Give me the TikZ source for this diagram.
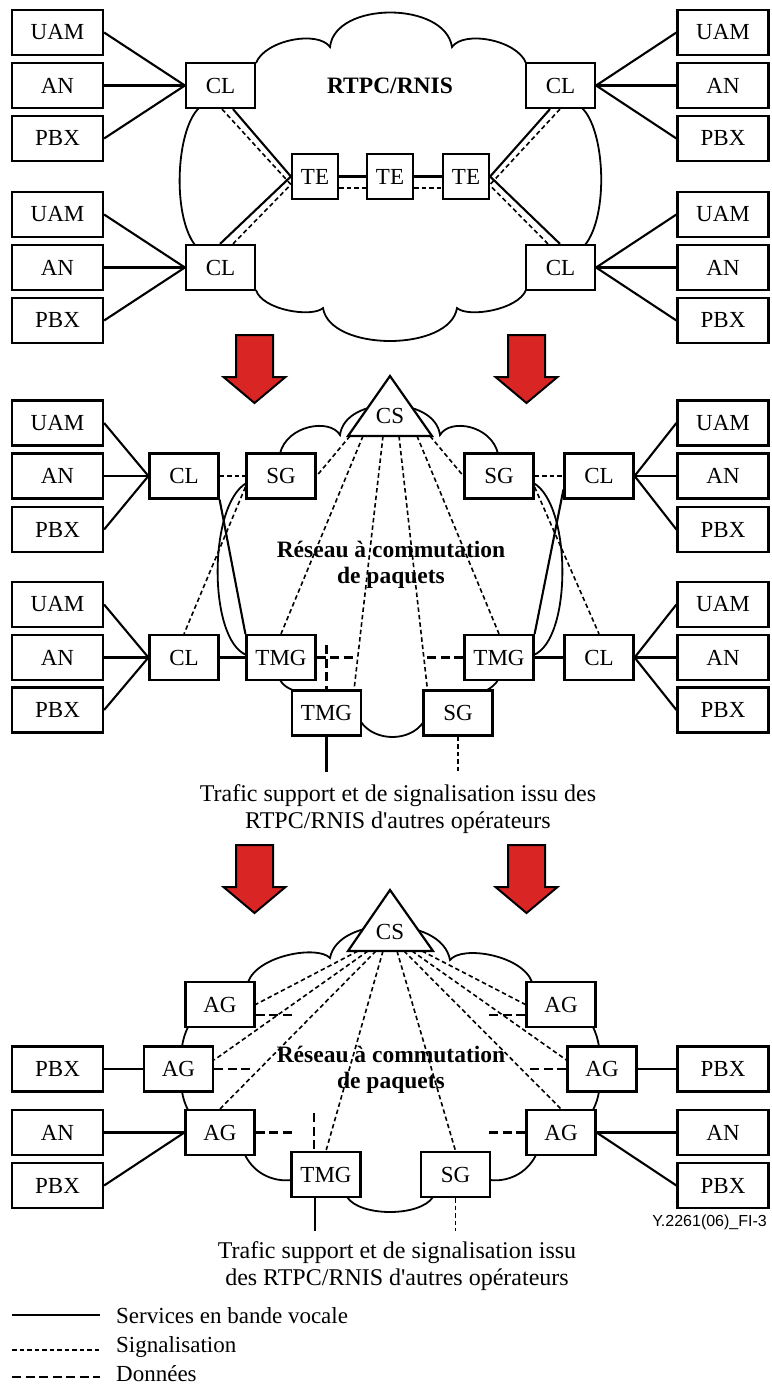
\documentclass[tikz,border=0pt]{standalone}
\usepackage{fontspec}
\setmainfont{Liberation Serif}
\setsansfont{Liberation Sans}
\usetikzlibrary{calc}
\definecolor{arrred}{RGB}{218,37,37}
\begin{document}
\begin{tikzpicture}[x=1pt,y=-1pt,
  box/.style={draw, line width=2.2pt, inner sep=0pt, minimum height=45pt, font=\fontsize{23}{26}\selectfont},
  sidebox/.style={box, minimum width=91pt},
  cbox/.style={box, minimum width=69pt},
  tebox/.style={box, minimum width=46pt},
  voice/.style={line width=2.1pt},
  thickvoice/.style={line width=3.8pt},
  sig/.style={line width=1.6pt, dash pattern=on 4.5pt off 3pt},
  data/.style={line width=2.2pt, dash pattern=on 9pt off 4.5pt},
  cloudline/.style={line width=1.8pt},
  bigarrow/.style={draw, line width=2pt, fill=arrred, line join=miter},
  title/.style={font=\bfseries\fontsize{23.5}{25.5}\selectfont, align=center, inner sep=0pt},
  note/.style={font=\fontsize{24}{27}\selectfont, align=center, inner sep=0pt},
  legtext/.style={font=\fontsize{23}{26}\selectfont, anchor=west, inner sep=0pt},
  cslabel/.style={font=\fontsize{23}{26}\selectfont, inner sep=0pt},
  downarrow/.pic={\draw[bigarrow] (-18.5,0) -- (18.5,0) -- (18.5,42) -- (31,42) -- (0,68) -- (-31,42) -- (-18.5,42) -- cycle;}]
\useasboundingbox (0,0) rectangle (771,1389);

%% ================= TOP SECTION =================
\draw[cloudline] (256,63) .. controls (265,40) and (318,30) .. (330,47)
  .. controls (335,1) and (445,1) .. (452,47)
  .. controls (464,30) and (517,40) .. (526,63);
\draw[cloudline] (582,108) .. controls (605,130) and (609,215) .. (585,245);
\draw[cloudline] (199,108) .. controls (176,130) and (172,215) .. (195,245);
\draw[cloudline] (256,290) .. controls (262,310) and (312,318) .. (323,308)
  .. controls (330,352) and (450,352) .. (457,308)
  .. controls (468,318) and (518,310) .. (526,290);

\node[sidebox] (uam1) at (57.5,32.5) {UAM};
\node[sidebox] (an1) at (57.5,85.5) {AN};
\node[sidebox] (pbx1) at (57.5,138.5) {PBX};
\node[sidebox] (uam2) at (57.5,214.5) {UAM};
\node[sidebox] (an2) at (57.5,267.5) {AN};
\node[sidebox] (pbx2) at (57.5,320.5) {PBX};
\node[sidebox] (uam3) at (723,32.5) {UAM};
\node[sidebox] (an3) at (723,85.5) {AN};
\node[sidebox] (pbx3) at (723,138.5) {PBX};
\node[sidebox] (uam4) at (723,214.5) {UAM};
\node[sidebox] (an4) at (723,267.5) {AN};
\node[sidebox] (pbx4) at (723,320.5) {PBX};
\node[cbox] (cl1) at (220.5,85.5) {CL};
\node[cbox] (cl2) at (220.5,267.5) {CL};
\node[cbox] (cl3) at (560.5,85.5) {CL};
\node[cbox] (cl4) at (560.5,267.5) {CL};
\node[tebox] (te1) at (315,176.5) {TE};
\node[tebox] (te2) at (390,176.5) {TE};
\node[tebox] (te3) at (466,176.5) {TE};
\node[title] (rtpc) at (390,86) {RTPC/RNIS};

\foreach \s/\c in {uam1/cl1,an1/cl1,pbx1/cl1,uam2/cl2,an2/cl2,pbx2/cl2}
  \draw[voice] (\s.east) -- (\c.west);
\foreach \s/\c in {uam3/cl3,an3/cl3,pbx3/cl3,uam4/cl4,an4/cl4,pbx4/cl4}
  \draw[voice] (\c.east) -- (\s.west);

\draw[voice] ([xshift=12.5pt]cl1.south) -- (te1.west);
\draw[sig] ([xshift=1.5pt]cl1.south) -- ([yshift=-8pt]te1.west);
\draw[voice] ([xshift=-0.5pt]cl2.north) -- (te1.west);
\draw[sig] ([xshift=12.5pt]cl2.north) -- ([yshift=-8pt]te1.west);
\draw[voice] ([xshift=-10.5pt]cl3.south) -- (te3.east);
\draw[sig] ([xshift=-0.5pt]cl3.south) -- ([yshift=-8pt]te3.east);
\draw[voice] ([xshift=-0.5pt]cl4.north) -- (te3.east);
\draw[sig] ([xshift=-12.5pt]cl4.north) -- ([yshift=-9pt]te3.east);
\draw[thickvoice] (te1.east) -- (te2.west);
\draw[thickvoice] (te2.east) -- (te3.west);
\draw[sig] ([yshift=-11.5pt]te1.east) -- ([yshift=-11.5pt]te2.west);
\draw[sig] ([yshift=-11.5pt]te2.east) -- ([yshift=-11.5pt]te3.west);

%% arrows
\pic at (254.5,335) {downarrow};
\pic at (526.5,335) {downarrow};
\pic at (254.5,845) {downarrow};
\pic at (526.5,845) {downarrow};

%% ================= MIDDLE SECTION =================
\draw[cloudline] (280,453.5) .. controls (287,425) and (330,418) .. (340,435)
  .. controls (345,395) and (435,395) .. (440,435)
  .. controls (450,418) and (491,425) .. (498,453.5);
\draw[cloudline] (533.5,483) .. controls (572,505) and (572,640) .. (533.5,655);
\draw[cloudline] (246.5,655) .. controls (208,640) and (208,505) .. (246.5,483);
\draw[cloudline] (280,680) .. controls (283,685) and (287,688) .. (294,690.5);
\draw[cloudline] (498,680) .. controls (495,685) and (491,688) .. (486,690.5);
\draw[cloudline] (361,722) .. controls (375,742) and (410,742) .. (423.5,722);

\draw[line width=2.2pt, fill=white, line join=miter] (390,376) -- (432,436) -- (348,436) -- cycle;
\node[cslabel] (cs1) at (390,416) {CS};
\coordinate (cs1a) at (350,436);
\coordinate (cs1b) at (363,436);
\coordinate (cs1c) at (383,436);
\coordinate (cs1d) at (399,436);
\coordinate (cs1e) at (417,436);
\coordinate (cs1f) at (430,436);

\node[sidebox] (uam5) at (57.5,423) {UAM};
\node[sidebox] (an5) at (57.5,476) {AN};
\node[sidebox] (pbx5) at (57.5,529.5) {PBX};
\node[sidebox] (uam6) at (57.5,604.5) {UAM};
\node[sidebox] (an6) at (57.5,657.5) {AN};
\node[sidebox] (pbx6) at (57.5,710) {PBX};
\node[sidebox] (uam7) at (723,423) {UAM};
\node[sidebox] (an7) at (723,476) {AN};
\node[sidebox] (pbx7) at (723,529.5) {PBX};
\node[sidebox] (uam8) at (723,604.5) {UAM};
\node[sidebox] (an8) at (723,657.5) {AN};
\node[sidebox] (pbx8) at (723,710) {PBX};
\node[cbox] (cl5) at (184,476) {CL};
\node[cbox] (cl6) at (184,657.5) {CL};
\node[cbox] (sg1) at (281,476) {SG};
\node[cbox] (tmg1) at (281,657.5) {TMG};
\node[cbox] (tmg2) at (326.5,713) {TMG};
\node[cbox] (sg2) at (458,713) {SG};
\node[cbox] (sg3) at (499,476) {SG};
\node[cbox] (tmg3) at (499,657.5) {TMG};
\node[cbox] (cl7) at (599,476) {CL};
\node[cbox] (cl8) at (599,657.5) {CL};
\node[title] (res1) at (391,565) {Réseau à commutation\\de paquets};

\foreach \s/\c in {uam5/cl5,an5/cl5,pbx5/cl5,uam6/cl6,an6/cl6,pbx6/cl6}
  \draw[voice] (\s.east) -- (\c.west);
\foreach \s/\c in {uam7/cl7,an7/cl7,pbx7/cl7,uam8/cl8,an8/cl8,pbx8/cl8}
  \draw[voice] (\c.east) -- (\s.west);

\draw[sig] (cs1a) -- (sg1.east);
\draw[sig] (cs1b) -- (tmg1.north);
\draw[sig] (cs1c) -- ([xshift=-8pt]tmg2.north east);
\draw[sig] (cs1d) -- ([xshift=5pt]sg2.north west);
\draw[sig] (cs1e) -- (tmg3.north);
\draw[sig] (cs1f) -- (sg3.west);

\draw[sig] (cl5.east) -- (sg1.west);
\draw[voice] (cl5.south east) -- (tmg1.north west);
\draw[sig] ([yshift=-11pt]sg1.west) -- (cl6.north);
\draw[voice] (cl6.east) -- (tmg1.west);
\draw[sig] (sg3.east) -- (cl7.west);
\draw[voice] ([yshift=10pt]cl7.south west) -- (tmg3.north east);
\draw[sig] ([yshift=-11pt]sg3.east) -- (cl8.north);
\draw[voice] (tmg3.east) -- (cl8.west);

\coordinate (dat1) at (356,657.5);
\coordinate (dat2) at (326.5,645);
\coordinate (dat3) at (426,657.5);
\draw[data] (tmg1.east) -- (dat1);
\draw[data] (dat2) -- (tmg2.north);
\draw[data] (tmg3.west) -- (dat3);
\coordinate (ext1) at (326.5,772);
\coordinate (ext2) at (458,772);
\draw[voice] (tmg2.south) -- (ext1);
\draw[sig] (sg2.south) -- (ext2);
\node[note] (traf1) at (398,809) {Trafic support et de signalisation issu des\\RTPC/RNIS d\textquotesingle autres opérateurs};

%% ================= BOTTOM SECTION =================
\draw[cloudline] (248,982) .. controls (258,955) and (318,945) .. (330,958)
  .. controls (338,915) and (442,915) .. (450,960)
  .. controls (462,945) and (522,955) .. (532,982);
\draw[cloudline] (188,1027) .. controls (185,1033) and (183,1040) .. (182,1046.5);
\draw[cloudline] (182,1091.5) .. controls (183,1098) and (185,1104) .. (188,1110);
\draw[cloudline] (245,1155) .. controls (255,1175) and (275,1182) .. (291.5,1180);
\draw[cloudline] (347,1197) .. controls (360,1217) and (420,1217) .. (433,1197);
\draw[cloudline] (490,1180) .. controls (506,1182) and (526,1175) .. (536,1155);
\draw[cloudline] (593,1027) .. controls (596,1033) and (598,1040) .. (599,1046.5);
\draw[cloudline] (599,1091.5) .. controls (598,1098) and (596,1104) .. (593,1110);

\draw[line width=2.2pt, fill=white, line join=miter] (390,890) -- (433,951) -- (348,951) -- cycle;
\node[cslabel] (cs2) at (390,932) {CS};
\coordinate (cs2a) at (358,951);
\coordinate (cs2b) at (368,951);
\coordinate (cs2c) at (376,951);
\coordinate (cs2d) at (383,951);
\coordinate (cs2e) at (397,951);
\coordinate (cs2f) at (404,951);
\coordinate (cs2g) at (412,951);
\coordinate (cs2h) at (422,951);

\node[sidebox] (pbx11) at (57.5,1069) {PBX};
\node[sidebox] (an11) at (57.5,1132.5) {AN};
\node[sidebox] (pbx12) at (57.5,1185.5) {PBX};
\node[sidebox] (pbx13) at (723,1069) {PBX};
\node[sidebox] (an13) at (723,1132.5) {AN};
\node[sidebox] (pbx14) at (723,1185.5) {PBX};
\node[cbox] (ag1) at (220,1004.5) {AG};
\node[cbox] (ag2) at (178.5,1069) {AG};
\node[cbox] (ag3) at (220,1132.5) {AG};
\node[cbox] (tmg4) at (326,1174.5) {TMG};
\node[cbox] (sg4) at (455.5,1174.5) {SG};
\node[cbox] (ag4) at (561,1004.5) {AG};
\node[cbox] (ag5) at (602,1069) {AG};
\node[cbox] (ag6) at (561,1132.5) {AG};
\node[title] (res2) at (391,1070) {Réseau à commutation\\de paquets};

\draw[voice] (pbx11.east) -- (ag2.west);
\draw[voice] (an11.east) -- (ag3.west);
\draw[voice] (pbx12.east) -- (ag3.west);
\draw[voice] (ag5.east) -- (pbx13.west);
\draw[voice] (ag6.east) -- (an13.west);
\draw[voice] (ag6.east) -- (pbx14.west);

\draw[sig] (cs2a) -- (ag1.east);
\draw[sig] (cs2b) -- ([yshift=9pt]ag2.east);
\draw[sig] (cs2c) -- (ag3.north);
\draw[sig] (cs2d) -- (tmg4.north);
\draw[sig] (cs2e) -- (sg4.north);
\draw[sig] (cs2f) -- (ag6.north);
\draw[sig] (cs2g) -- ([yshift=9pt]ag5.west);
\draw[sig] (cs2h) -- (ag4.west);

\coordinate (d1) at (292,1015);
\coordinate (d2) at (250,1069);
\coordinate (d3) at (292,1132.5);
\coordinate (d4) at (314,1113);
\coordinate (d5) at (489,1015);
\coordinate (d6) at (530,1069);
\coordinate (d7) at (489,1132.5);
\draw[data] ([yshift=-10.5pt]ag1.east) -- (d1);
\draw[data] (ag2.east) -- (d2);
\draw[data] (ag3.east) -- (d3);
\draw[data] (d4) -- ([xshift=-12pt]tmg4.north);
\draw[data] (d5) -- ([yshift=-10.5pt]ag4.west);
\draw[data] (d6) -- (ag5.west);
\draw[data] (d7) -- (ag6.west);

\coordinate (ext3) at (315,1231);
\coordinate (ext4) at (455.5,1231);
\draw[voice] ([xshift=-11pt]tmg4.south) -- (ext3);
\draw[sig] (sg4.south) -- (ext4);
\node[note] (traf2) at (397,1266) {Trafic support et de signalisation issu\\des RTPC/RNIS d\textquotesingle autres opérateurs};
\node[font=\sffamily\fontsize{16}{18}\selectfont, anchor=east, inner sep=0pt] (figid) at (767,1222) {Y.2261(06)\_FI-3};

%% ================= LEGEND =================
\coordinate (l1a) at (12,1315);
\coordinate (l1b) at (100,1315);
\coordinate (l2a) at (12,1350);
\coordinate (l2b) at (100,1350);
\coordinate (l3a) at (12,1377);
\coordinate (l3b) at (100,1377);
\draw[voice] (l1a) -- (l1b);
\draw[sig] (l2a) -- (l2b);
\draw[data] (l3a) -- (l3b);
\node[legtext] (lt1) at (116,1316) {Services en bande vocale};
\node[legtext] (lt2) at (116,1347) {Signalisation};
\node[legtext] (lt3) at (116,1374) {Données};
\end{tikzpicture}
\end{document}
